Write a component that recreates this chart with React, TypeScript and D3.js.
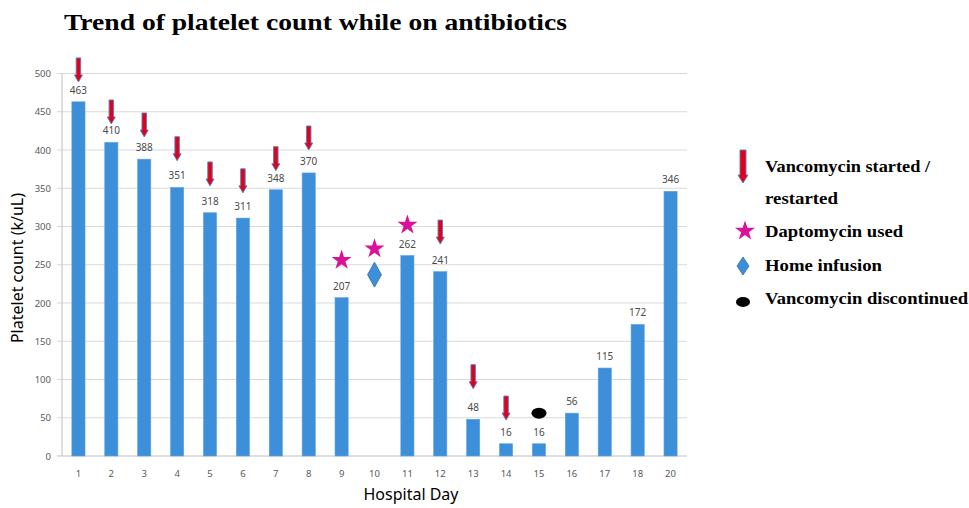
import React from "react";
import * as d3 from "d3";

const days = ["1","2","3","4","5","6","7","8","9","10","11","12","13","14","15","16","17","18","20"];
const platelets: (number | null)[] = [463,410,388,351,318,311,348,370,207,null,262,241,48,16,16,56,115,172,346];
const yTicks = [0,50,100,150,200,250,300,350,400,450,500];

// marker annotations (day, level in k/uL)
const arrowDays = ["1","2","3","4","5","6","7","8","12","13","14"];
const arrowLevels = [489,434,417,386,353,344,373,400,277,88,47];
const starDays = ["9","10","11"];
const starLevels = [256,271,302];
const diamondDays = ["10"];
const diamondLevels = [237];
const ellipseDays = ["15"];
const ellipseLevels = [56];

const W = 969, H = 508;
const BLUE = "#3d8fd9";
const RED = "#e3001b";
const MAGENTA = "#d9119b";

function Arrow({ x, tip, len, shaft, head, headLen }: { x: number; tip: number; len: number; shaft: number; head: number; headLen: number }) {
  const top = tip - len;
  const hb = tip - headLen;
  const d = `M${x - shaft / 2},${top} L${x + shaft / 2},${top} L${x + shaft / 2},${hb} L${x + head / 2},${hb} L${x},${tip} L${x - head / 2},${hb} L${x - shaft / 2},${hb} Z`;
  return <path d={d} fill={RED} stroke="#4f81bd" strokeWidth={0.9} strokeLinejoin="miter" />;
}

function Star({ cx, cy, r }: { cx: number; cy: number; r: number }) {
  const sym = d3.symbol(d3.symbolStar, Math.PI * r * r * 0.55)();
  return <path d={sym || ""} transform={`translate(${cx},${cy})`} fill={MAGENTA} />;
}

function Diamond({ cx, cy, w, h }: { cx: number; cy: number; w: number; h: number }) {
  const d = `M${cx},${cy - h / 2} L${cx + w / 2},${cy} L${cx},${cy + h / 2} L${cx - w / 2},${cy} Z`;
  return <path d={d} fill={BLUE} stroke="#2f6fae" strokeWidth={0.8} />;
}

export default function App() {
  const x = d3.scaleBand<string>().domain(days).range([62, 687]).paddingInner(0.6).paddingOuter(0.3);
  const y = d3.scaleLinear().domain([0, 500]).range([456, 73.5]);
  const bw = x.bandwidth();
  const cx = (d: string) => (x(d) as number) + bw / 2;
  const sans = "'Noto Sans', 'Open Sans', sans-serif";
  const serif = "'Liberation Serif', 'Times New Roman', serif";
  const leg = { fontFamily: serif, fontWeight: "bold" as const, fontSize: 17, fill: "#000", lengthAdjust: "spacingAndGlyphs" as const };

  return (
    <svg width={W} height={H} style={{ position: "absolute", left: 0, top: 0, background: "#fff" }}>
      <rect x={0} y={0} width={W} height={H} fill="#fff" />
      <text x={64} y={30} fontFamily={serif} fontWeight="bold" fontSize={24} fill="#000" textLength={503} lengthAdjust="spacingAndGlyphs">Trend of platelet count while on antibiotics</text>

      {yTicks.map((t) => (
        <g key={t}>
          <line x1={57} x2={687} y1={y(t)} y2={y(t)} stroke={t === 0 ? "#bfbfbf" : "#d9d9d9"} strokeWidth={1} />
          <text x={51} y={y(t) + 3.5} textAnchor="end" fontFamily={sans} fontSize={9.5} fill="#595959">{t}</text>
        </g>
      ))}
      <line x1={62} x2={62} y1={y(500)} y2={y(0)} stroke="#bfbfbf" strokeWidth={1} />

      {days.map((d, i) => {
        const v = platelets[i];
        return (
          <g key={d}>
            {v !== null && (
              <>
                <rect x={x(d)} y={y(v)} width={bw} height={y(0) - y(v)} fill={BLUE} stroke="#5ba3e6" strokeWidth={0.6} />
                <text x={cx(d)} y={y(v) - 8} textAnchor="middle" fontFamily={sans} fontSize={10} fill="#4a4a4a">{v}</text>
              </>
            )}
            <text x={cx(d)} y={477} textAnchor="middle" fontFamily={sans} fontSize={9.5} fill="#595959">{d}</text>
          </g>
        );
      })}

      {arrowDays.map((d, i) => (
        <Arrow key={"a" + d} x={cx(d)} tip={y(arrowLevels[i])} len={24} shaft={4.5} head={8} headLen={7} />
      ))}
      {starDays.map((d, i) => (
        <Star key={"s" + d} cx={cx(d)} cy={y(starLevels[i])} r={8.5} />
      ))}
      {diamondDays.map((d, i) => (
        <Diamond key={"d" + d} cx={cx(d)} cy={y(diamondLevels[i])} w={14} h={25} />
      ))}
      {ellipseDays.map((d, i) => (
        <ellipse key={"e" + d} cx={cx(d)} cy={y(ellipseLevels[i])} rx={7.5} ry={5.5} fill="#000" />
      ))}

      <text transform={`translate(23,268) rotate(-90)`} textAnchor="middle" fontFamily={sans} fontSize={16} fill="#000">Platelet count (k/uL)</text>
      <text x={411} y={500} textAnchor="middle" fontFamily={sans} fontSize={16} fill="#000">Hospital Day</text>

      {/* legend */}
      <Arrow x={743} tip={183} len={33} shaft={6} head={10} headLen={8} />
      <text x={765} y={172} {...leg} textLength={165}>Vancomycin started /</text>
      <text x={765} y={204} {...leg} textLength={73}>restarted</text>
      <Star cx={745} cy={231} r={8.5} />
      <text x={765} y={237} {...leg} textLength={138}>Daptomycin used</text>
      <Diamond cx={743} cy={266} w={12} h={18} />
      <text x={765} y={271} {...leg} textLength={117}>Home infusion</text>
      <ellipse cx={743} cy={302} rx={7} ry={5} fill="#000" />
      <text x={765} y={304} {...leg} textLength={203}>Vancomycin discontinued</text>
    </svg>
  );
}
